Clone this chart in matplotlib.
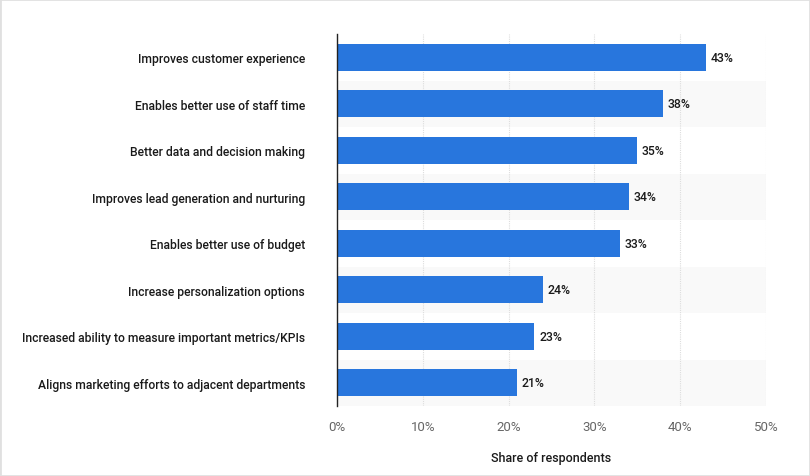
import matplotlib.pyplot as plt
from matplotlib.patches import Rectangle

# Data
categories = [
    "Improves customer experience",
    "Enables better use of staff time",
    "Better data and decision making",
    "Improves lead generation and nurturing",
    "Enables better use of budget",
    "Increase personalization options",
    "Increased ability to measure important metrics/KPIs",
    "Aligns marketing efforts to adjacent departments",
]
shares = [43, 38, 35, 34, 33, 24, 23, 21]
tick_values = [0, 10, 20, 30, 40, 50]
tick_labels = ["0%", "10%", "20%", "30%", "40%", "50%"]

plt.rcParams['font.family'] = ['Roboto', 'DejaVu Sans']

fig = plt.figure(figsize=(8.1, 4.77), dpi=100)
ax = fig.add_axes([337 / 810, 1 - 407 / 477, (766 - 337) / 810, (407 - 35) / 477])

n = len(categories)
ypos = list(range(n))

# alternating light bands behind every second row
for i in ypos:
    if i % 2 == 1:
        ax.axhspan(i - 0.5, i + 0.5, color="#f9f9f9", zorder=0, lw=0)

ax.barh(ypos, shares, height=0.58, color="#2876dd", zorder=3)
for y, v in zip(ypos, shares):
    ax.text(v + 0.55, y, str(v) + "%", va="center", ha="left", fontsize=8.8,
            fontweight="medium", color="#1a1a1a", zorder=4)

ax.set_xlim(0, 50)
ax.set_ylim(n - 0.5, -0.5)
ax.set_yticks(ypos)
ax.set_yticklabels(categories, fontsize=8.7, color="#1a1a1a", fontweight="medium")
ax.set_xticks(tick_values)
ax.set_xticklabels(tick_labels, fontsize=9.5, color="#666666")
ax.tick_params(axis="y", length=0, pad=23)
ax.tick_params(axis="x", length=0, pad=10)
ax.xaxis.grid(True, color="#dddddd", linestyle=(0, (1, 1)), linewidth=0.8, zorder=1)
ax.set_axisbelow(True)

for s in ["top", "right", "bottom"]:
    ax.spines[s].set_visible(False)
ax.spines["left"].set_color("#222222")
ax.spines["left"].set_linewidth(1)
ax.spines["left"].set_zorder(5)

ax.set_xlabel("Share of respondents", fontsize=9, color="#1a1a1a", fontweight="medium", labelpad=13)

# light frame around the whole picture
fig.patches.append(Rectangle((0, 0), 1, 1, transform=fig.transFigure, fill=False,
                             edgecolor="#e0e0e0", linewidth=2))

fig.savefig("out.png", dpi=100, facecolor="white")
